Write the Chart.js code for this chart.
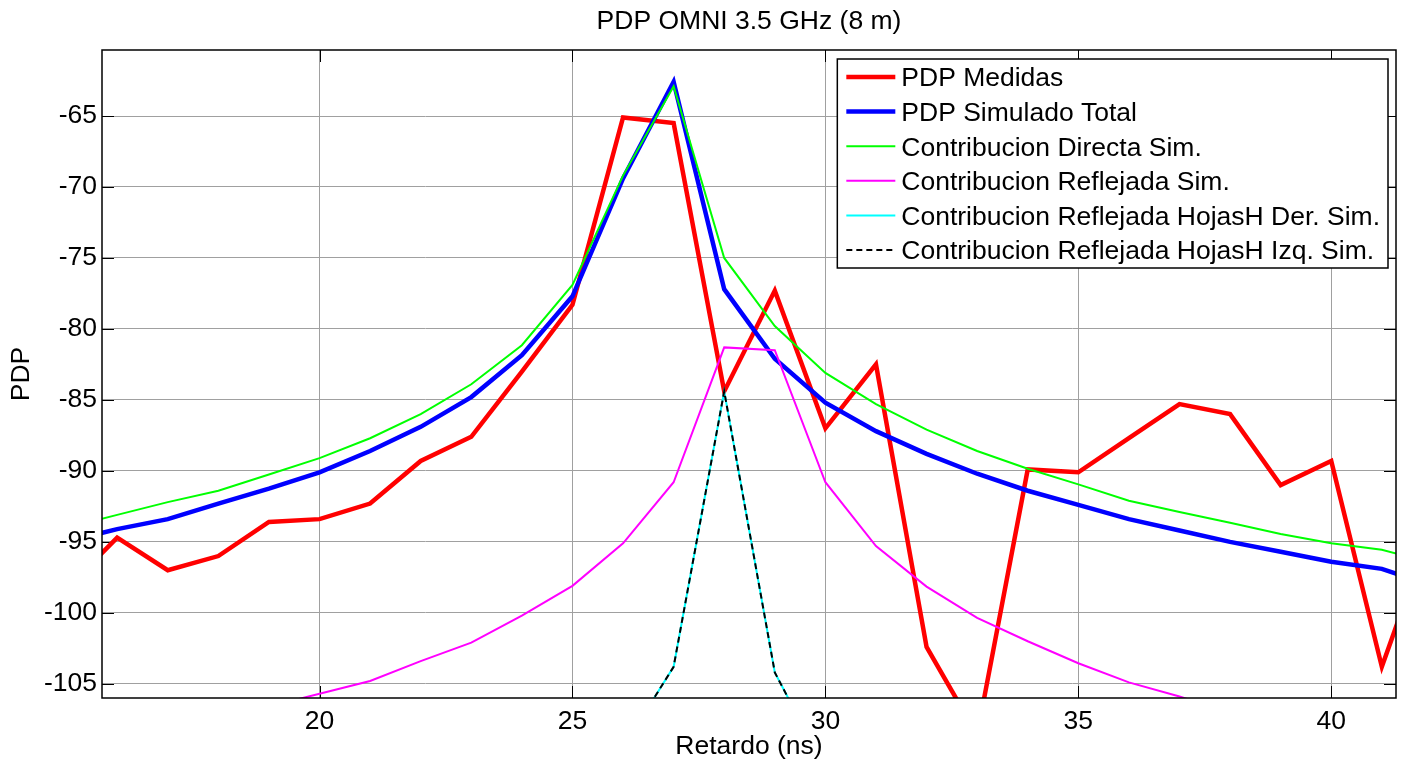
<!DOCTYPE html>
<html><head><meta charset="utf-8">
<script src="https://cdn.jsdelivr.net/npm/chart.js@4/dist/chart.umd.min.js"></script>
<style>html,body{margin:0;padding:0;background:#fff}#wrap{width:1407px;height:765px}</style>
</head><body><div id="wrap"><canvas id="c" width="1407" height="765"></canvas></div>
<script>
const delays = [15,16,17,18,19,20,21,22,23,24,25,26,27,28,29,30,31,32,33,34,35,36,37,38,39,40,41,42];
const pdpMedidas = [-98.3,-94.7,-97.0,-96.0,-93.6,-93.4,-92.3,-89.3,-87.6,-83.0,-78.3,-65.1,-65.5,-84.4,-77.3,-87.0,-82.5,-102.4,-108.6,-89.9,-90.1,-87.7,-85.3,-86.0,-91.0,-89.3,-103.8,-93.8];
const pdpSimTotal = [-95.0,-94.1,-93.4,-92.3,-91.25,-90.1,-88.6,-86.9,-84.8,-81.85,-77.7,-69.4,-62.6,-77.2,-82.1,-85.2,-87.2,-88.8,-90.2,-91.4,-92.4,-93.4,-94.2,-95.0,-95.7,-96.4,-96.9,-98.1];
const contribDirecta = [-94.0,-93.1,-92.2,-91.4,-90.25,-89.1,-87.7,-86.0,-83.9,-81.15,-76.9,-69.2,-62.9,-75.0,-79.8,-83.1,-85.3,-87.1,-88.6,-89.85,-90.95,-92.1,-92.9,-93.65,-94.45,-95.1,-95.55,-96.5];
const contribReflejada = [-109.4,-108.8,-108.1,-107.4,-106.6,-105.7,-104.8,-103.4,-102.1,-100.2,-98.1,-95.1,-90.8,-81.3,-81.5,-90.8,-95.3,-98.15,-100.35,-102.0,-103.55,-104.9,-105.9,-107.0,-108.0,-108.8,-109.6,-110.3];
const contribHojasDer = [null,null,null,null,null,null,null,null,null,null,null,-109.5,-103.8,-84.4,-104.2,-111.0,null,null,null,null,null,null,null,null,null,null,null,null];
const contribHojasIzq = [null,null,null,null,null,null,null,null,null,null,null,-109.5,-103.8,-84.4,-104.2,-111.0,null,null,null,null,null,null,null,null,null,null,null,null];
const xTickValues = [20,25,30,35,40];
const yTickValues = [-65,-70,-75,-80,-85,-90,-95,-100,-105];
const seriesLabels = ['PDP Medidas','PDP Simulado Total','Contribucion Directa Sim.','Contribucion Reflejada Sim.','Contribucion Reflejada HojasH Der. Sim.','Contribucion Reflejada HojasH Izq. Sim.'];

const FONT = 'Liberation Sans, Arial, sans-serif';
const FS = 26.5;
const pts = arr => delays.map((x,i)=>({x:x, y:arr[i]}));

function ds(label, arr, color, width, order, dash){
  return {label, data: pts(arr), borderColor: color, backgroundColor: color, borderWidth: width,
    pointRadius: 0, pointHoverRadius: 0, tension: 0, showLine: true, fill: false,
    borderDash: dash || [], order, clip: 0, spanGaps: false};
}

const datasets = [
  ds(seriesLabels[0], pdpMedidas, '#ff0000', 4.5, 6),
  ds(seriesLabels[1], pdpSimTotal, '#0000ff', 4.5, 5),
  ds(seriesLabels[2], contribDirecta, '#00ff00', 2, 4),
  ds(seriesLabels[3], contribReflejada, '#ff00ff', 2, 3),
  ds(seriesLabels[4], contribHojasDer, '#00ffff', 2, 2),
  ds(seriesLabels[5], contribHojasIzq, '#000000', 2, 1, [6,4]),
];

const frame = {
  id: 'frame',
  beforeDatasetsDraw(chart){
    const {ctx, chartArea:a, scales:{x,y}} = chart;
    ctx.save(); ctx.strokeStyle='#000'; ctx.lineWidth=1;
    ctx.beginPath();
    xTickValues.forEach(v=>{const p=Math.round(x.getPixelForValue(v))+0.5;
      ctx.moveTo(p,a.bottom); ctx.lineTo(p,a.bottom-12); ctx.moveTo(p,a.top); ctx.lineTo(p,a.top+12);});
    yTickValues.forEach(v=>{const p=Math.round(y.getPixelForValue(v))+0.5;
      ctx.moveTo(a.left,p); ctx.lineTo(a.left+12,p); ctx.moveTo(a.right,p); ctx.lineTo(a.right-12,p);});
    ctx.stroke(); ctx.restore();
  },
  afterDatasetsDraw(chart){
    const {ctx, chartArea:a} = chart;
    ctx.save(); ctx.strokeStyle='#000'; ctx.lineWidth=1.5;
    ctx.strokeRect(a.left, a.top, a.right-a.left, a.bottom-a.top);
    ctx.restore();
  }
};

const legendBox = {
  id: 'legendBox',
  afterDraw(chart){
    const {ctx, chartArea:a} = chart;
    ctx.save();
    ctx.font = FS + 'px ' + FONT;
    let maxW = 0;
    chart.data.datasets.forEach(d=>{maxW = Math.max(maxW, ctx.measureText(d.label).width);});
    const right = a.right - 8, top = a.top + 9;
    const rowH = 34.6;
    const w = maxW + 64 + 8, h = 36 + rowH*5;
    const left = right - w;
    ctx.fillStyle = '#fff'; ctx.fillRect(left, top, w, h);
    ctx.strokeStyle = '#000'; ctx.lineWidth = 1.5; ctx.strokeRect(left, top, w, h);
    chart.data.datasets.forEach((d,i)=>{
      const cy = top + 18 + i*rowH;
      ctx.beginPath(); ctx.strokeStyle = d.borderColor; ctx.lineWidth = d.borderWidth;
      ctx.setLineDash(d.borderDash || []);
      ctx.moveTo(left+9, cy); ctx.lineTo(left+58, cy); ctx.stroke();
      ctx.setLineDash([]);
      ctx.fillStyle = '#000'; ctx.textBaseline = 'middle'; ctx.textAlign = 'left';
      ctx.fillText(d.label, left+64, cy+2);
    });
    ctx.restore();
  }
};

new Chart(document.getElementById('c'), {
  type: 'scatter',
  data: { datasets },
  plugins: [frame, legendBox],
  options: {
    responsive: false, animation: false, devicePixelRatio: 1,
    layout: { padding: { left: 0, right: 11, top: 0, bottom: 0 } },
    plugins: {
      legend: { display: false },
      tooltip: { enabled: false },
      title: { display: true, text: 'PDP OMNI 3.5 GHz (8 m)', fullSize: false, color: '#000',
        font: { family: FONT, size: FS, weight: 'normal' }, padding: { top: 6, bottom: 12.2 } }
    },
    scales: {
      x: { type: 'linear', min: 15.7, max: 41.28,
        afterBuildTicks: s => { s.ticks = xTickValues.map(v=>({value:v})); },
        afterFit: s => { s.height = 67; },
        grid: { color: '#a0a0a0', lineWidth: 1, drawTicks: false },
        border: { display: false },
        ticks: { color: '#000', font: { family: FONT, size: FS }, padding: 8, maxRotation: 0, autoSkip: false },
        title: { display: true, text: 'Retardo (ns)', color: '#000', font: { family: FONT, size: FS }, padding: { top: 0, bottom: 2 } }
      },
      y: { type: 'linear', min: -106, max: -60.35,
        afterBuildTicks: s => { s.ticks = yTickValues.map(v=>({value:v})); },
        afterFit: s => { s.width = 102; },
        grid: { color: '#a0a0a0', lineWidth: 1, drawTicks: false },
        border: { display: false },
        ticks: { color: '#000', font: { family: FONT, size: FS }, padding: 5, autoSkip: false },
        title: { display: true, text: 'PDP', color: '#000', font: { family: FONT, size: FS }, padding: { top: 6, bottom: 0 } }
      }
    }
  }
});
</script></body></html>
